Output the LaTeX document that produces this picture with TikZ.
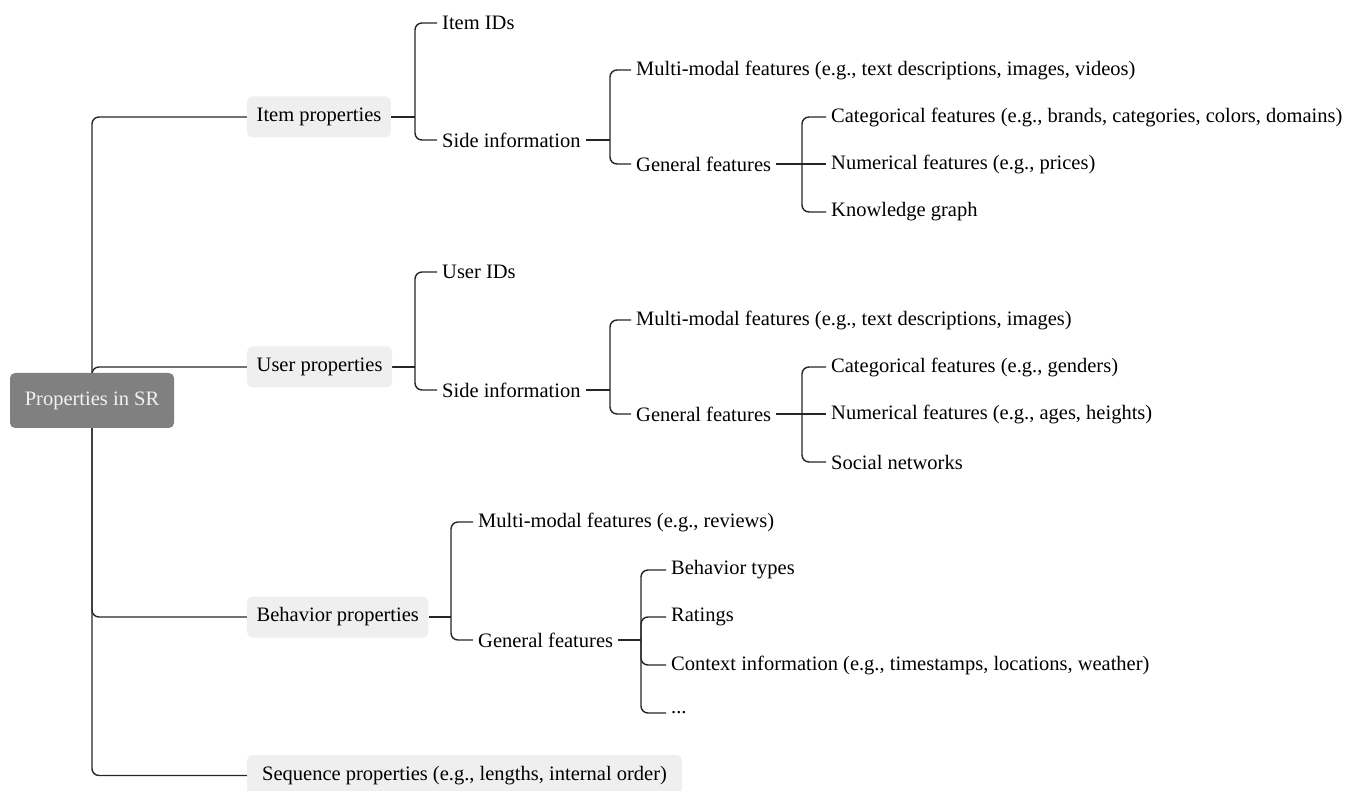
\documentclass[tikz,border=0pt]{standalone}
\usepackage{fontspec}
\setmainfont{Liberation Serif}
\newfontfamily\serf{Liberation Serif}
\usetikzlibrary{backgrounds}
\definecolor{propgray}{HTML}{EFEFEF}
\definecolor{rootgray}{HTML}{808080}
\definecolor{linecol}{HTML}{262626}
\begin{document}
\begin{tikzpicture}[x=1pt,y=-1pt,
  txt/.style={anchor=west,inner xsep=5pt,inner ysep=2pt,font=\serf\fontsize{20.5}{24}\selectfont,text=black},
  prop/.style={anchor=west,fill=propgray,rounded corners=5pt,minimum height=41pt,inner xsep=9.5pt,font=\serf\fontsize{20.5}{24}\selectfont,text=black},
  rootbox/.style={fill=rootgray,rounded corners=5pt,minimum width=164pt,minimum height=55pt,font=\serf\fontsize{20.5}{24}\selectfont,text=white!95!black},
  conn/.style={draw=linecol,line width=1.4pt,rounded corners=7pt}]
\useasboundingbox (0,0) rectangle (1355,791);

% root and first level
\node[rootbox] (root) at (92,400.5) {Properties in SR};
\node[prop] (item) at (247,117) {Item properties};
\node[prop] (user) at (247,367) {User properties};
\node[prop] (beh) at (247,617) {Behavior properties};
\node[prop,inner xsep=15pt] (seq) at (247,775.5) {Sequence properties (e.g., lengths, internal order)};

% item subtree
\node[txt] (itemids) at (437,23) {Item IDs};
\node[txt] (iside) at (437,140) {Side information};
\node[txt] (imm) at (631,70) {Multi-modal features (e.g., text descriptions, images, videos)};
\node[txt] (igen) at (631,164) {General features};
\node[txt] (icat) at (826,117) {Categorical features (e.g., brands, categories, colors, domains)};
\node[txt] (inum) at (826,164) {Numerical features (e.g., prices)};
\node[txt] (ikg) at (826,212) {Knowledge graph};

% user subtree
\node[txt] (userids) at (437,272) {User IDs};
\node[txt] (uside) at (437,390) {Side information};
\node[txt] (umm) at (631,320) {Multi-modal features (e.g., text descriptions, images)};
\node[txt] (ugen) at (631,414) {General features};
\node[txt] (ucat) at (826,367) {Categorical features (e.g., genders)};
\node[txt] (unum) at (826,414) {Numerical features (e.g., ages, heights)};
\node[txt] (usoc) at (826,462) {Social networks};

% behavior subtree
\node[txt] (bmm) at (473,522) {Multi-modal features (e.g., reviews)};
\node[txt] (bgen) at (473,640) {General features};
\node[txt] (btype) at (666,570) {Behavior types};
\node[txt] (brat) at (666,617) {Ratings};
\node[txt] (bctx) at (666,665) {Context information (e.g., timestamps, locations, weather)};
\node[txt] (bdots) at (666,713) {...};

% junction points
\coordinate (ti) at (415,117);
\coordinate (tis) at (610,140);
\coordinate (tig) at (802,164);
\coordinate (tu) at (415,367);
\coordinate (tus) at (610,390);
\coordinate (tug) at (802,414);
\coordinate (tb) at (451,617);
\coordinate (tbg) at (641,640);

\begin{scope}[on background layer]
  \draw[conn] (root.center) |- (item.west);
  \draw[conn] (root.center) |- (user.west);
  \draw[conn] (root.center) |- (beh.west);
  \draw[conn] (root.center) |- (seq.west);

  \draw[conn] (item.east) -- (ti);
  \draw[conn] (ti) |- (itemids.west);
  \draw[conn] (ti) |- (iside.west);
  \draw[conn] (iside.east) -- (tis);
  \draw[conn] (tis) |- (imm.west);
  \draw[conn] (tis) |- (igen.west);
  \draw[conn] (igen.east) -- (tig);
  \draw[conn] (tig) |- (icat.west);
  \draw[conn] (tig) -- (inum.west);
  \draw[conn] (tig) |- (ikg.west);

  \draw[conn] (user.east) -- (tu);
  \draw[conn] (tu) |- (userids.west);
  \draw[conn] (tu) |- (uside.west);
  \draw[conn] (uside.east) -- (tus);
  \draw[conn] (tus) |- (umm.west);
  \draw[conn] (tus) |- (ugen.west);
  \draw[conn] (ugen.east) -- (tug);
  \draw[conn] (tug) |- (ucat.west);
  \draw[conn] (tug) -- (unum.west);
  \draw[conn] (tug) |- (usoc.west);

  \draw[conn] (beh.east) -- (tb);
  \draw[conn] (tb) |- (bmm.west);
  \draw[conn] (tb) |- (bgen.west);
  \draw[conn] (bgen.east) -- (tbg);
  \draw[conn] (tbg) |- (btype.west);
  \draw[conn] (tbg) |- (brat.west);
  \draw[conn] (tbg) |- (bctx.west);
  \draw[conn] (tbg) |- (bdots.west);
\end{scope}
\end{tikzpicture}
\end{document}
